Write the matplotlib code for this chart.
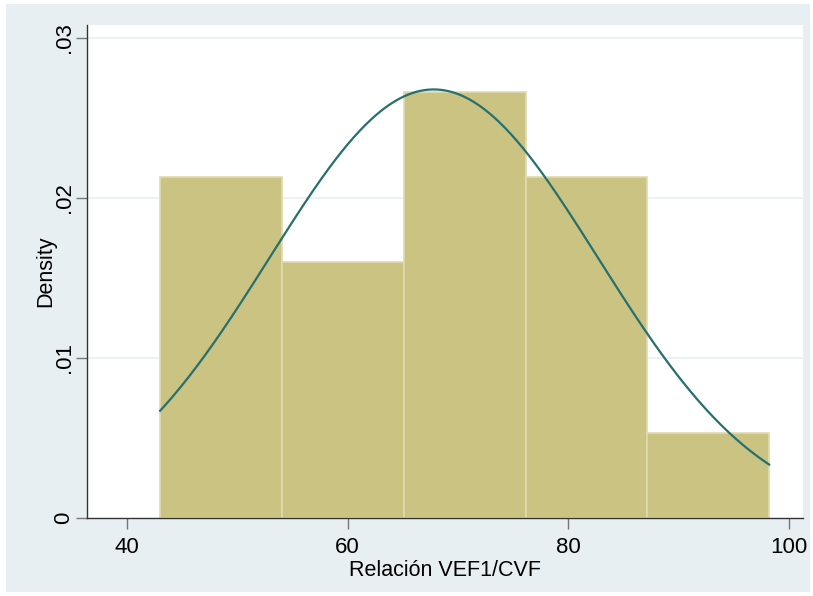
import numpy as np
import matplotlib.pyplot as plt
from matplotlib.patches import Rectangle

# histogram of Relación VEF1/CVF with fitted normal curve
bin_start = 43.0
bin_width = 11.04
counts = [4, 3, 5, 4, 1]
fit_mean = 67.8
fit_sd = 14.9

xticks = [40, 60, 80, 100]
yticks = [0, 0.01, 0.02, 0.03]
ytick_labels = ["0", ".01", ".02", ".03"]

plt.rcParams['font.family'] = ['Liberation Sans', 'DejaVu Sans']

bg = '#e8eff2'
fig = plt.figure(figsize=(8.13, 5.96), dpi=100, facecolor='white')
fig.patches.append(Rectangle((6 / 813, 4 / 596), 804 / 813, 588 / 596,
                             transform=fig.transFigure, facecolor=bg,
                             edgecolor='none', zorder=-1))
ax = fig.add_axes([87 / 813, 1 - 518 / 596, 716 / 813, 493 / 596])
ax.set_facecolor('white')

n = sum(counts)
edges = bin_start + bin_width * np.arange(len(counts) + 1)
dens = np.array(counts) / (n * bin_width)
ax.bar(edges[:-1], dens, width=bin_width, align='edge', color='#cbc382',
       edgecolor='#dfdab0', linewidth=1.2, zorder=2)

xs = np.linspace(edges[0], edges[-1], 300)
pdf = np.exp(-0.5 * ((xs - fit_mean) / fit_sd) ** 2) / (fit_sd * np.sqrt(2 * np.pi))
ax.plot(xs, pdf, color='#26706e', linewidth=1.6, zorder=3)

ax.set_xlim(36.37, 101.27)
ax.set_ylim(0, 0.0308)
ax.set_xticks(xticks)
ax.set_yticks(yticks)
ax.set_yticklabels(ytick_labels, rotation=90, va='center')
for y in yticks[1:]:
    ax.axhline(y, color=bg, linewidth=1.2, zorder=1)

for s in ['top', 'right']:
    ax.spines[s].set_visible(False)
for s in ['left', 'bottom']:
    ax.spines[s].set_color('#333333')
    ax.spines[s].set_linewidth(1.0)
ax.tick_params(axis='both', direction='out', length=8, width=1, color='#777777',
               labelsize=16, labelcolor='black')
ax.tick_params(axis='x', pad=6)
ax.tick_params(axis='y', pad=1)

ax.set_xlabel('Relación VEF1/CVF', fontsize=15.5, labelpad=1)
ax.set_ylabel('Density', fontsize=15.5, labelpad=-2)

fig.savefig('out.png', dpi=100, facecolor=fig.get_facecolor())
